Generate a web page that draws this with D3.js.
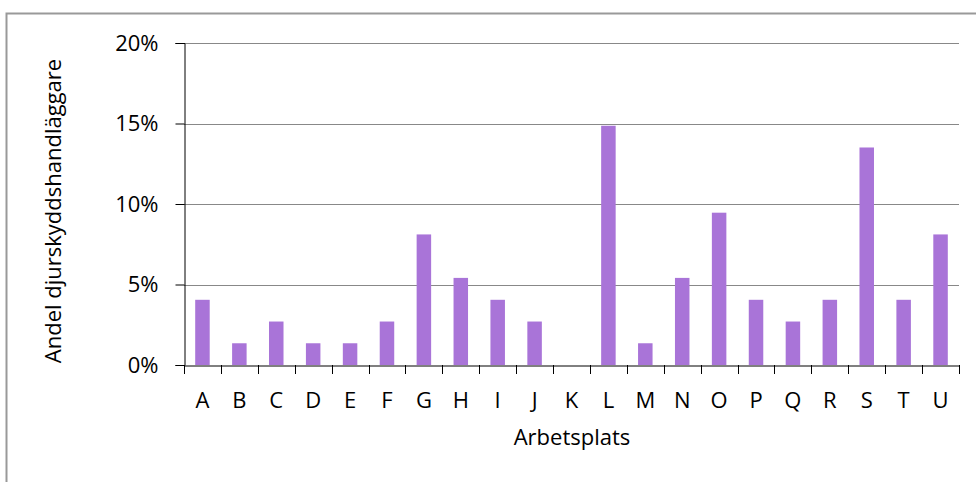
<!DOCTYPE html>
<html><head><meta charset="utf-8">
<script src="https://cdn.jsdelivr.net/npm/d3@7"></script>
<style>body{margin:0;background:#fff}svg{display:block}</style>
</head><body>
<script>
const categories = ["A","B","C","D","E","F","G","H","I","J","K","L","M","N","O","P","Q","R","S","T","U"];
const values = [4.05,1.35,2.70,1.35,1.35,2.70,8.11,5.41,4.05,2.70,0,14.86,1.35,5.41,9.46,4.05,2.70,4.05,13.51,4.05,8.11];
const yTicks = [0,5,10,15,20];
const xTitle = "Arbetsplats";
const yTitle = "Andel djurskyddshandläggare";

const W=976,H=482;
const svg=d3.select("body").append("svg").attr("width",W).attr("height",H);
const font="'Open Sans', sans-serif";
svg.append("rect").attr("x",6.5).attr("y",13.5).attr("width",W+10).attr("height",H+10)
  .attr("fill","#fff").attr("stroke","#999").attr("stroke-width",2);

// measure to pick font size matching reference text width
const probe=svg.append("text").attr("font-family",font).attr("font-size",20).text(yTitle);
const fs=Math.min(22,20*318/probe.node().getComputedTextLength());
probe.remove();

const x0=184,x1=959,yTop=43,yBot=365;
const x=d3.scaleBand().domain(categories).range([x0,x1]).paddingInner(0).paddingOuter(0);
const y=d3.scaleLinear().domain([0,20]).range([yBot,yTop]);

svg.append("g").selectAll("line").data(yTicks.filter(d=>d>0)).join("line")
  .attr("x1",x0).attr("x2",x1).attr("y1",d=>Math.round(y(d))+0.5).attr("y2",d=>Math.round(y(d))+0.5)
  .attr("stroke","#888").attr("stroke-width",1);

const bw=14.5;
svg.append("g").selectAll("rect").data(categories).join("rect")
  .attr("x",(d)=>x(d)+x.bandwidth()/2-bw/2)
  .attr("y",(d,i)=>y(values[i]))
  .attr("width",bw)
  .attr("height",(d,i)=>yBot-y(values[i]))
  .attr("fill","#a974d8");

const yAxis=d3.axisLeft(y).tickValues(yTicks).tickFormat(d=>d+"%").tickSize(9).tickPadding(17);
const gy=svg.append("g").attr("transform",`translate(${x0+0.5},0)`).call(yAxis);
gy.select(".domain").attr("stroke","#000");
gy.selectAll(".tick line").attr("stroke","#000");
gy.selectAll("text").attr("font-family",font).attr("font-size",fs).attr("fill","#000");

const xAxis=d3.axisBottom(x).tickSize(0).tickPadding(0);
const gx=svg.append("g").attr("transform",`translate(0,${yBot+0.5})`).call(xAxis);
gx.select(".domain").attr("stroke","#000");
gx.selectAll("text").attr("font-family",font).attr("font-size",fs).attr("fill","#000")
  .attr("dy",null).attr("y",42.5);
const bounds=categories.map(c=>x(c)).concat([x1]);
svg.append("g").selectAll("line").data(bounds).join("line")
  .attr("x1",d=>Math.round(d)+0.5).attr("x2",d=>Math.round(d)+0.5)
  .attr("y1",yBot).attr("y2",yBot+9).attr("stroke","#000");

svg.append("text").attr("x",572).attr("y",445).attr("text-anchor","middle")
  .attr("font-family",font).attr("font-size",fs).text(xTitle);
svg.append("text").attr("transform",`translate(61,211) rotate(-90)`).attr("text-anchor","middle")
  .attr("font-family",font).attr("font-size",fs).text(yTitle);
</script>
</body></html>
